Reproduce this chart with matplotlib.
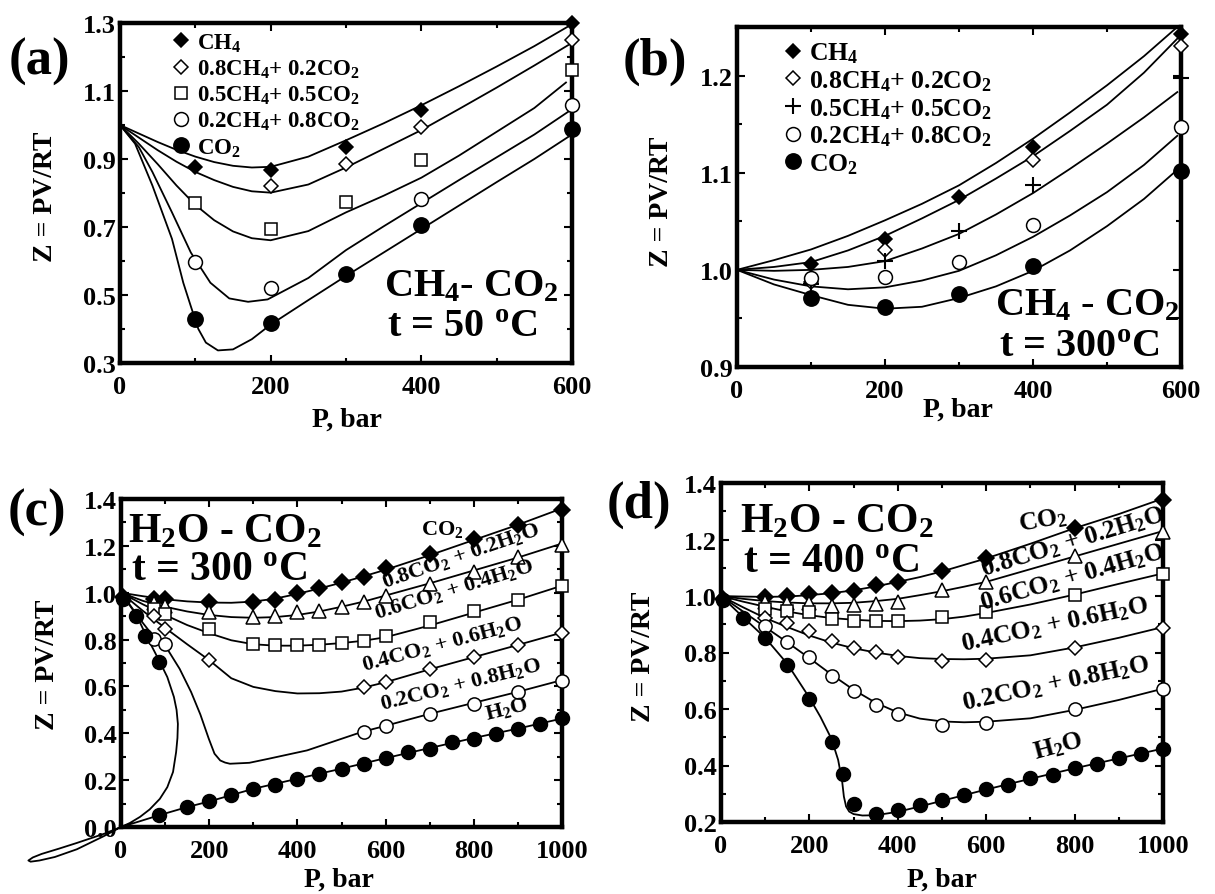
import numpy as np
import matplotlib
matplotlib.use('Agg')
from matplotlib import pyplot as plt

plt.rcParams['font.family'] = 'Liberation Serif'
plt.rcParams['font.weight'] = 'bold'
plt.rcParams['mathtext.fontset'] = 'custom'
plt.rcParams['mathtext.rm'] = 'Liberation Serif:bold'
plt.rcParams['mathtext.bf'] = 'Liberation Serif:bold'
plt.rcParams['mathtext.it'] = 'Liberation Serif:bold:italic'
plt.rcParams['mathtext.default'] = 'rm'

W, H = 1215, 895

# ---------------- panel (a): CH4-CO2, 50 C ----------------
a_labels = ['CH$_4$', '0.8CH$_4$+ 0.2CO$_2$', '0.5CH$_4$+ 0.5CO$_2$',
            '0.2CH$_4$+ 0.8CO$_2$', 'CO$_2$']
a_pts_P = [[100, 200, 300, 400, 600],
           [200, 300, 400, 600],
           [100, 200, 300, 400, 600],
           [100, 200, 400, 600],
           [100, 200, 300, 400, 600]]
a_pts_Z = [[0.876, 0.869, 0.935, 1.044, 1.300],
           [0.822, 0.884, 0.995, 1.251],
           [0.771, 0.694, 0.773, 0.896, 1.162],
           [0.596, 0.522, 0.783, 1.059],
           [0.428, 0.418, 0.561, 0.706, 0.988]]
a_crv_P = [[0, 25, 50, 75, 100, 125, 150, 175, 200, 250, 300, 350, 400, 450, 500, 550, 595],
           [0, 25, 50, 75, 100, 125, 150, 175, 200, 250, 300, 350, 400, 450, 500, 550, 595],
           [0, 25, 50, 75, 100, 125, 150, 175, 200, 250, 300, 350, 400, 450, 500, 550, 592],
           [0, 25, 43, 69, 94, 120, 145, 170, 196, 250, 300, 350, 400, 450, 500, 550, 595],
           [0, 20, 43, 69, 84, 94, 104, 114, 130, 150, 175, 200, 250, 300, 350, 400, 450, 500, 550, 595]]
a_crv_Z = [[1.000, 0.975, 0.950, 0.927, 0.907, 0.891, 0.880, 0.875, 0.877, 0.907, 0.955, 1.005, 1.058, 1.114, 1.172, 1.232, 1.290],
           [1.000, 0.963, 0.926, 0.892, 0.862, 0.838, 0.818, 0.805, 0.801, 0.825, 0.875, 0.930, 0.985, 1.047, 1.110, 1.175, 1.235],
           [1.000, 0.945, 0.885, 0.822, 0.765, 0.720, 0.687, 0.667, 0.661, 0.688, 0.743, 0.792, 0.845, 0.910, 0.980, 1.050, 1.125],
           [1.000, 0.935, 0.862, 0.743, 0.625, 0.536, 0.490, 0.480, 0.487, 0.550, 0.632, 0.702, 0.770, 0.838, 0.905, 0.972, 1.039],
           [1.000, 0.945, 0.822, 0.665, 0.536, 0.467, 0.400, 0.360, 0.337, 0.340, 0.370, 0.413, 0.485, 0.556, 0.625, 0.694, 0.763, 0.832, 0.900, 0.965]]

# ---------------- panel (b): CH4-CO2, 300 C ----------------
b_labels = a_labels
b_pts_P = [[100, 200, 300, 400, 600],
           [100, 200, 400, 600],
           [100, 200, 300, 400, 600],
           [100, 200, 300, 400, 600],
           [100, 200, 300, 400, 600]]
b_pts_Z = [[1.006, 1.032, 1.075, 1.126, 1.243],
           [0.987, 1.020, 1.113, 1.230],
           [0.985, 1.009, 1.040, 1.087, 1.198],
           [0.992, 0.993, 1.008, 1.046, 1.147],
           [0.971, 0.962, 0.975, 1.004, 1.102]]
b_crv_P = [0, 50, 100, 150, 200, 250, 300, 350, 400, 450, 500, 550, 595]
b_crv_Z = [[1.000, 1.010, 1.021, 1.035, 1.051, 1.068, 1.087, 1.110, 1.135, 1.162, 1.190, 1.220, 1.250],
           [1.000, 1.003, 1.008, 1.020, 1.035, 1.053, 1.072, 1.094, 1.117, 1.143, 1.170, 1.203, 1.238],
           [1.000, 0.999, 1.000, 1.003, 1.009, 1.022, 1.037, 1.057, 1.079, 1.104, 1.130, 1.157, 1.183],
           [1.000, 0.990, 0.983, 0.980, 0.982, 0.989, 0.999, 1.015, 1.034, 1.056, 1.080, 1.108, 1.138],
           [1.000, 0.985, 0.974, 0.964, 0.960, 0.962, 0.971, 0.983, 0.999, 1.020, 1.045, 1.073, 1.103]]

# ---------------- panel (c): H2O-CO2, 300 C ----------------
c_names = ['CO$_2$', '0.8CO$_2$ + 0.2H$_2$O', '0.6CO$_2$ + 0.4H$_2$O',
           '0.4CO$_2$ + 0.6H$_2$O', '0.2CO$_2$ + 0.8H$_2$O', 'H$_2$O']
c_pts_P = [[5, 75, 100, 200, 300, 350, 400, 450, 500, 550, 600, 700, 800, 900, 1000],
           [75, 100, 200, 300, 350, 400, 450, 500, 550, 600, 700, 800, 900, 1000],
           [75, 100, 200, 300, 350, 400, 450, 500, 550, 600, 700, 800, 900, 1000],
           [75, 100, 200, 550, 600, 700, 800, 900, 1000],
           [75, 100, 550, 600, 700, 800, 900, 1000],
           [5, 35, 55, 85.9, 85.9, 150, 200, 250, 300, 350, 400, 450, 500, 550, 600, 650,
            700, 750, 800, 850, 900, 950, 1000]]
c_pts_Z = [[0.98, 0.975, 0.975, 0.960, 0.960, 0.970, 1.000, 1.020, 1.045, 1.065, 1.105, 1.165, 1.230, 1.290, 1.355],
           [0.955, 0.945, 0.917, 0.895, 0.902, 0.917, 0.924, 0.938, 0.960, 0.988, 1.037, 1.087, 1.151, 1.204],
           [0.930, 0.910, 0.846, 0.782, 0.775, 0.777, 0.775, 0.786, 0.796, 0.817, 0.874, 0.924, 0.971, 1.030],
           [0.900, 0.846, 0.711, 0.597, 0.621, 0.675, 0.725, 0.775, 0.829],
           [0.803, 0.782, 0.405, 0.431, 0.483, 0.526, 0.576, 0.625],
           [0.975, 0.902, 0.817, 0.703, 0.050, 0.085, 0.109, 0.135, 0.163, 0.178, 0.206, 0.227,
            0.249, 0.270, 0.294, 0.320, 0.334, 0.362, 0.377, 0.398, 0.419, 0.441, 0.465]]
c_grid_P = [0, 50, 100, 150, 200, 250, 300, 350, 400, 450, 500, 550, 600, 700, 800, 900, 1000]
c_crv_P = [c_grid_P, c_grid_P, c_grid_P, c_grid_P,
           [0, 25, 50, 75, 100, 133, 159, 180, 199, 212, 225, 236, 247, 291, 334, 422, 545, 600, 700, 800, 900, 1000],
           [0, 35, 55, 88, 105, 120, 126, 129, 128, 125, 118, 105, 88, 65, 43, 20, 0,
            -40, -100, -150, -185, -205, -210, -200, -180, -140, -100, -40, 0,
            40, 86, 150, 200, 300, 400, 500, 600, 700, 800, 900, 1000]]
c_crv_Z = [[1.000, 0.985, 0.972, 0.963, 0.958, 0.957, 0.962, 0.975, 0.995, 1.018, 1.043, 1.070, 1.098, 1.160, 1.225, 1.290, 1.360],
           [1.000, 0.965, 0.940, 0.920, 0.905, 0.896, 0.893, 0.896, 0.905, 0.920, 0.940, 0.962, 0.988, 1.040, 1.095, 1.150, 1.210],
           [1.000, 0.950, 0.905, 0.862, 0.827, 0.797, 0.780, 0.774, 0.774, 0.778, 0.785, 0.795, 0.810, 0.860, 0.915, 0.970, 1.030],
           [1.000, 0.922, 0.850, 0.780, 0.712, 0.635, 0.598, 0.580, 0.570, 0.571, 0.578, 0.595, 0.618, 0.673, 0.725, 0.777, 0.830],
           [1.000, 0.935, 0.870, 0.810, 0.775, 0.675, 0.576, 0.480, 0.377, 0.313, 0.284, 0.275, 0.270, 0.274, 0.291, 0.327, 0.405, 0.432, 0.483, 0.530, 0.577, 0.627],
           [1.000, 0.905, 0.825, 0.705, 0.640, 0.555, 0.500, 0.440, 0.380, 0.320, 0.235, 0.170, 0.120, 0.075, 0.043, 0.017, 0.000,
            -0.040, -0.095, -0.128, -0.143, -0.148, -0.143, -0.130, -0.115, -0.092, -0.068, -0.030, 0.000,
            0.023, 0.050, 0.085, 0.109, 0.163, 0.206, 0.249, 0.294, 0.337, 0.380, 0.420, 0.463]]

# ---------------- panel (d): H2O-CO2, 400 C ----------------
d_pts_P = [[5, 100, 150, 200, 250, 300, 350, 400, 500, 600, 800, 1000],
           [100, 150, 200, 250, 300, 350, 400, 500, 600, 800, 1000],
           [100, 150, 200, 250, 300, 350, 400, 500, 600, 800, 1000],
           [100, 150, 200, 250, 300, 350, 400, 500, 600, 800, 1000],
           [100, 150, 200, 250, 300, 350, 400, 500, 600, 800, 1000],
           [5, 50, 100, 150, 200, 250, 275, 300, 350, 400, 450, 500, 550, 600, 650, 700,
            750, 800, 850, 900, 950, 1000]]
d_pts_Z = [[0.990, 0.995, 1.000, 1.006, 1.010, 1.018, 1.040, 1.050, 1.090, 1.134, 1.240, 1.341],
           [0.980, 0.974, 0.974, 0.965, 0.968, 0.972, 0.978, 1.022, 1.049, 1.142, 1.225],
           [0.954, 0.947, 0.943, 0.917, 0.911, 0.911, 0.911, 0.927, 0.945, 1.002, 1.077],
           [0.921, 0.903, 0.876, 0.841, 0.815, 0.803, 0.785, 0.770, 0.773, 0.817, 0.888],
           [0.895, 0.836, 0.785, 0.717, 0.665, 0.614, 0.584, 0.545, 0.549, 0.600, 0.671],
           [0.986, 0.921, 0.850, 0.756, 0.635, 0.484, 0.371, 0.265, 0.230, 0.241, 0.259, 0.277,
            0.295, 0.316, 0.330, 0.354, 0.368, 0.392, 0.407, 0.425, 0.442, 0.460]]
d_grid_P = [0, 50, 100, 150, 200, 250, 300, 350, 400, 450, 500, 550, 600, 700, 800, 900, 1000]
d_crv_P = [d_grid_P, d_grid_P, d_grid_P, d_grid_P, d_grid_P,
           [0, 50, 100, 150, 200, 225, 250, 265, 274, 278, 283, 290, 300, 320, 350, 400, 450, 500, 600, 700, 800, 900, 1000]]
d_crv_Z = [[1.000, 0.998, 0.997, 0.998, 1.003, 1.010, 1.020, 1.034, 1.050, 1.067, 1.087, 1.110, 1.133, 1.185, 1.240, 1.290, 1.345],
           [1.000, 0.990, 0.982, 0.977, 0.974, 0.974, 0.976, 0.982, 0.990, 1.003, 1.017, 1.033, 1.050, 1.095, 1.140, 1.185, 1.230],
           [1.000, 0.980, 0.962, 0.945, 0.932, 0.922, 0.916, 0.912, 0.911, 0.913, 0.918, 0.927, 0.940, 0.970, 1.005, 1.043, 1.080],
           [1.000, 0.960, 0.922, 0.890, 0.860, 0.835, 0.815, 0.800, 0.788, 0.780, 0.777, 0.776, 0.778, 0.790, 0.818, 0.852, 0.890],
           [1.000, 0.945, 0.890, 0.836, 0.780, 0.722, 0.668, 0.622, 0.588, 0.566, 0.556, 0.553, 0.555, 0.567, 0.597, 0.632, 0.672],
           [1.000, 0.925, 0.852, 0.760, 0.640, 0.572, 0.494, 0.420, 0.345, 0.290, 0.255, 0.237, 0.228, 0.223, 0.224, 0.236, 0.255, 0.275, 0.315, 0.353, 0.390, 0.425, 0.460]]

# marker styles  (marker, filled, size)
ch4_sty = [('D', True, 7.5), ('D', False, 7.5), ('s', False, 8.5), ('o', False, 10), ('o', True, 11)]
ch4b_sty = [('D', True, 7.5), ('D', False, 7.5), ('+', False, 12), ('o', False, 10), ('o', True, 11)]
h2o_sty = [('D', True, 8), ('^', False, 10), ('s', False, 9), ('D', False, 7.5), ('o', False, 9.5), ('o', True, 10)]


def px(x, y):
    return x / W, 1 - y / H


def style(ax, xlim, ylim, xmaj, ymaj, ylabs, xmin, ymin):
    ax.set_xlim(xlim)
    ax.set_ylim(ylim)
    ax.set_xticks(xmaj)
    ax.set_xticklabels([str(v) for v in xmaj])
    ax.set_yticks(ymaj)
    ax.set_yticklabels(ylabs)
    ax.set_xticks(xmin, minor=True)
    ax.set_yticks(ymin, minor=True)
    for s in ax.spines.values():
        s.set_linewidth(3.2)
    ax.tick_params(which='both', direction='in', top=True, right=True, width=1.5)
    ax.tick_params(which='major', length=6)
    ax.tick_params(which='minor', length=3.5)
    ax.tick_params(axis='x', pad=9, labelsize=19)
    ax.tick_params(axis='y', pad=3, labelsize=19)


def draw(ax, crv_P, crv_Z, pts_P, pts_Z, sty, labels=None):
    for cp, cz in zip(crv_P, crv_Z):
        ax.plot(cp, cz, '-', color='black', lw=1.3, clip_on=False, zorder=2)
    handles = []
    for i, (pp, pz) in enumerate(zip(pts_P, pts_Z)):
        m, filled, ms = sty[i]
        h, = ax.plot(pp, pz, linestyle='none', marker=m, ms=ms,
                     mfc='black' if filled else 'white', mec='black',
                     mew=1.5 if m == '+' else 1.1, clip_on=False, zorder=3,
                     label=labels[i] if labels else None)
        handles.append(h)
    return handles


fig = plt.figure(figsize=(12.15, 8.95), dpi=100)

# (a)
ax = fig.add_axes([120 / W, 1 - 364 / H, 452 / W, 340 / H])
style(ax, (0, 600), (0.3, 1.3), [0, 200, 400, 600], [0.3, 0.5, 0.7, 0.9, 1.1, 1.3],
      ['0.3', '0.5', '0.7', '0.9', '1.1', '1.3'], [100, 300, 500], np.arange(0.4, 1.25, 0.2))
hs = draw(ax, a_crv_P, a_crv_Z, a_pts_P, a_pts_Z, ch4_sty, a_labels)
ax.legend(handles=hs, loc='upper left', bbox_to_anchor=(0.115, 0.975), frameon=False,
          fontsize=16.5, handlelength=0.8, handletextpad=0.3, labelspacing=0.17,
          borderpad=0, borderaxespad=0)
ax.text(466, 0.526, 'CH$_4$- CO$_2$', fontsize=29, ha='center', va='center')
ax.text(454, 0.406, 't = 50 $^o$C', fontsize=29, ha='center', va='center')

# (b)
ax = fig.add_axes([737 / W, 1 - 368 / H, 444 / W, 340 / H])
style(ax, (0, 600), (0.9, 1.25), [0, 200, 400, 600], [0.9, 1.0, 1.1, 1.2],
      ['0.9', '1.0', '1.1', '1.2'], [100, 300, 500], [0.95, 1.05, 1.15])
hs = draw(ax, [b_crv_P] * 5, b_crv_Z, b_pts_P, b_pts_Z, ch4b_sty, b_labels)
ax.legend(handles=hs, loc='upper left', bbox_to_anchor=(0.105, 0.96), frameon=False,
          fontsize=18.5, handlelength=0.7, handletextpad=0.3, labelspacing=0.12,
          borderpad=0, borderaxespad=0)
ax.text(473, 0.964, 'CH$_4$ - CO$_2$', fontsize=29, ha='center', va='center')
ax.text(462, 0.921, 't = 300$^o$C', fontsize=29, ha='center', va='center')

# (c)
ax = fig.add_axes([121 / W, 1 - 828 / H, 441 / W, 328 / H])
style(ax, (0, 1000), (0, 1.4), [0, 200, 400, 600, 800, 1000],
      [0, 0.2, 0.4, 0.6, 0.8, 1.0, 1.2, 1.4],
      ['0.0', '0.2', '0.4', '0.6', '0.8', '1.0', '1.2', '1.4'],
      [100, 300, 500, 700, 900], np.arange(0.1, 1.35, 0.2))
draw(ax, c_crv_P, c_crv_Z, c_pts_P, c_pts_Z, h2o_sty)
ax.text(236, 1.263, 'H$_2$O - CO$_2$', fontsize=30, ha='center', va='center')
ax.text(222, 1.101, 't = 300 $^o$C', fontsize=30, ha='center', va='center')
c_lab_pos = [(728, 1.272, 0), (770, 1.162, 19), (755, 1.016, 17),
             (728, 0.785, 15), (770, 0.611, 14), (875, 0.504, 14)]
for name, (x, y, r) in zip(c_names, c_lab_pos):
    ax.text(x, y, name, fontsize=16, ha='center', va='center', rotation=r)

# (d)
ax = fig.add_axes([721 / W, 1 - 823 / H, 442 / W, 339 / H])
style(ax, (0, 1000), (0.2, 1.4), [0, 200, 400, 600, 800, 1000],
      [0.2, 0.4, 0.6, 0.8, 1.0, 1.2, 1.4],
      ['0.2', '0.4', '0.6', '0.8', '1.0', '1.2', '1.4'],
      [100, 300, 500, 700, 900], np.arange(0.3, 1.35, 0.2))
draw(ax, d_crv_P, d_crv_Z, d_pts_P, d_pts_Z, h2o_sty)
ax.text(262, 1.266, 'H$_2$O - CO$_2$', fontsize=30, ha='center', va='center')
ax.text(249, 1.124, 't = 400 $^o$C', fontsize=30, ha='center', va='center')
d_lab_pos = [(729, 1.269, 10), (796, 1.192, 17), (794, 1.068, 16),
             (756, 0.901, 12), (758, 0.692, 12), (762, 0.469, 15)]
for name, (x, y, r) in zip(c_names, d_lab_pos):
    ax.text(x, y, name, fontsize=18.5, ha='center', va='center', rotation=r)

# panel letters and axis titles
for lab, (x, y) in zip(['(a)', '(b)', '(c)', '(d)'], [(39, 62), (655, 62), (37, 513), (639, 505)]):
    fig.text(*px(x, y), lab, fontsize=38, ha='center', va='center')
for (x, y) in [(45, 197), (661, 202), (48, 665), (644, 657)]:
    fig.text(*px(x, y), 'Z = PV/RT', fontsize=20, ha='center', va='center', rotation=90)
for (x, y) in [(347, 420), (958, 410), (339, 880), (942, 880)]:
    fig.text(*px(x, y), 'P, bar', fontsize=20, ha='center', va='center')

fig.savefig('out.png', dpi=100, facecolor='white')
